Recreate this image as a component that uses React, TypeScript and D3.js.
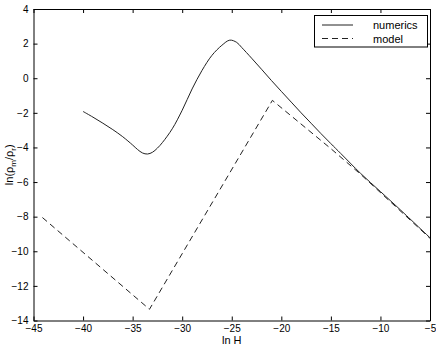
import React, { useEffect, useRef } from 'react';
import * as d3 from 'd3';

// numerics (solid)
const numericsLnH = [-40, -39, -38, -37, -36, -35, -34.5, -34, -33.5, -33, -32.5, -32, -31, -30, -29, -28, -27, -26, -25.2, -24.5, -24, -23, -22, -21, -20, -19, -18, -17, -16, -15, -14, -12, -10, -8, -5];
const numericsVal = [-1.92, -2.25, -2.6, -2.97, -3.38, -3.86, -4.12, -4.32, -4.38, -4.28, -4.04, -3.72, -2.92, -1.85, -0.62, 0.45, 1.32, 1.9, 2.2, 2.07, 1.78, 1.16, 0.52, -0.13, -0.76, -1.38, -2.0, -2.6, -3.2, -3.78, -4.35, -5.5, -6.55, -7.6, -9.22];

// model (dashed)
const modelLnH = [-44.1, -33.3, -20.9, -15, -12, -5];
const modelVal = [-8.05, -13.35, -1.28, -4.07, -5.55, -9.25];

const xTicks = [-45, -40, -35, -30, -25, -20, -15, -10, -5];
const yTicks = [4, 2, 0, -2, -4, -6, -8, -10, -12, -14];
const legendLabels = ['numerics', 'model'];

export default function App() {
  const ref = useRef<SVGSVGElement>(null);

  useEffect(() => {
    const width = 436;
    const height = 347;
    const margin = { top: 9, right: 6, bottom: 26.5, left: 33.5 };
    const font = 'Liberation Sans, Arial, Helvetica, sans-serif';

    const svg = d3.select(ref.current);
    svg.selectAll('*').remove();

    const x = d3.scaleLinear().domain([-45, -5]).range([margin.left, width - margin.right]);
    const y = d3.scaleLinear().domain([-14, 4]).range([height - margin.bottom, margin.top]);

    svg.append('rect')
      .attr('width', width)
      .attr('height', height)
      .attr('fill', 'white');

    // axes, ticks inward like matlab
    const bottom = svg.append('g')
      .attr('transform', `translate(0,${y(-14)})`)
      .call(d3.axisBottom(x).tickValues(xTicks).tickSizeInner(-4).tickSizeOuter(0).tickPadding(4));
    const left = svg.append('g')
      .attr('transform', `translate(${x(-45)},0)`)
      .call(d3.axisLeft(y).tickValues(yTicks).tickSizeInner(-4).tickSizeOuter(0).tickPadding(5));
    svg.append('g')
      .attr('transform', `translate(0,${y(4)})`)
      .call(d3.axisTop(x).tickValues(xTicks).tickSizeInner(-4).tickSizeOuter(0).tickFormat(() => ''));
    svg.append('g')
      .attr('transform', `translate(${x(-5)},0)`)
      .call(d3.axisRight(y).tickValues(yTicks).tickSizeInner(-4).tickSizeOuter(0).tickFormat(() => ''));

    svg.selectAll('.domain').attr('stroke', '#000').attr('stroke-width', 1);
    svg.selectAll('.tick line').attr('stroke', '#000');
    [bottom, left].forEach(g => g.selectAll('text')
      .style('font-family', font)
      .style('font-size', '10px')
      .attr('fill', '#000'));

    const line = d3.line<[number, number]>()
      .x(d => x(d[0]))
      .y(d => y(d[1]))
      .curve(d3.curveCatmullRom.alpha(0.5));

    svg.append('path')
      .datum(numericsLnH.map((v, i) => [v, numericsVal[i]] as [number, number]))
      .attr('d', line)
      .attr('fill', 'none')
      .attr('stroke', '#222')
      .attr('stroke-width', 1);

    svg.append('path')
      .datum(modelLnH.map((v, i) => [v, modelVal[i]] as [number, number]))
      .attr('d', d3.line<[number, number]>().x(d => x(d[0])).y(d => y(d[1])))
      .attr('fill', 'none')
      .attr('stroke', '#222')
      .attr('stroke-width', 1)
      .attr('stroke-dasharray', '6,4');

    // legend
    const lg = svg.append('g');
    lg.append('rect')
      .attr('x', 314.5).attr('y', 15.5).attr('width', 113).attr('height', 31.5)
      .attr('fill', 'white').attr('stroke', '#000');
    legendLabels.forEach((label, i) => {
      const ly = 25 + i * 13.5;
      lg.append('line')
        .attr('x1', 322).attr('x2', 353).attr('y1', ly).attr('y2', ly)
        .attr('stroke', '#222')
        .attr('stroke-dasharray', i === 1 ? '6,4' : null);
      lg.append('text')
        .attr('x', 373).attr('y', ly + 4)
        .style('font-family', font).style('font-size', '11px')
        .text(label);
    });

    // axis labels
    svg.append('text')
      .attr('x', x(-25)).attr('y', 344)
      .attr('text-anchor', 'middle')
      .style('font-family', font).style('font-size', '11px')
      .text('ln H');

    const yl = svg.append('text')
      .attr('transform', `translate(13,${y(-5)}) rotate(-90)`)
      .attr('text-anchor', 'middle')
      .style('font-family', font).style('font-size', '11px');
    yl.append('tspan').text('ln(ρ');
    yl.append('tspan').attr('dy', 3).style('font-size', '8px').text('m');
    yl.append('tspan').attr('dy', -3).text('/ρ');
    yl.append('tspan').attr('dy', 3).style('font-size', '8px').text('r');
    yl.append('tspan').attr('dy', -3).text(')');
  }, []);

  return (
    <svg ref={ref} width={436} height={347}
      style={{ position: 'absolute', left: 0, top: 0, display: 'block' }} />
  );
}
